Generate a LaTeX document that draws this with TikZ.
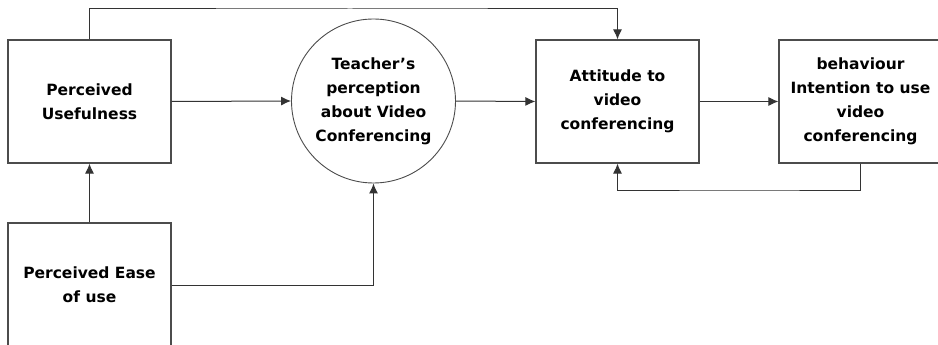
\documentclass[tikz,border=0pt]{standalone}
\usepackage{fontspec}
\setmainfont{DejaVu Sans}
\usetikzlibrary{arrows.meta}
\begin{document}
\begin{tikzpicture}[x=1pt,y=-1pt,
  lbl/.style={align=center, font=\bfseries\fontsize{15.5}{24}\selectfont, text=black},
  box/.style={lbl, draw=black!70, line width=1.2pt, minimum width=163pt, minimum height=123pt, inner sep=0pt},
  circ/.style={lbl, circle, draw=black!70, line width=0.9pt, minimum size=164pt, inner sep=0pt},
  arr/.style={draw=black!80, line width=1pt, -{Latex[length=10pt,width=9pt]}}
]
\useasboundingbox (0,0) rectangle (938,345);
\clip (0,0) rectangle (938,345);
\fill[white] (0,0) rectangle (938,345);
\node[box] (pu) at (89.5,101.5) {Perceived\\Usefulness};
\node[box, minimum height=124pt] (peu) at (89.5,285) {Perceived Ease\\of use};
\node[circ] (tp) at (373.5,101) {Teacher’s\\perception\\about Video\\Conferencing};
\node[box] (att) at (617.5,101.5) {Attitude to\\video\\conferencing};
\node[box] (beh) at (860.5,101.5) {behaviour\\Intention to use\\video\\conferencing};
\coordinate (topc) at (350,9);
\coordinate (botc) at (740,190);
\draw[arr] (pu.east) -- (tp.west);
\draw[arr] (tp.east) -- (att.west);
\draw[arr] (att.east) -- (beh.west);
\draw[arr] (peu.north) -- (pu.south);
\draw[arr] (peu.east) -| (tp.south);
\draw[arr] (pu.north) |- (topc) -| (att.north);
\draw[arr] (beh.south) |- (botc) -| (att.south);
\end{tikzpicture}
\end{document}
